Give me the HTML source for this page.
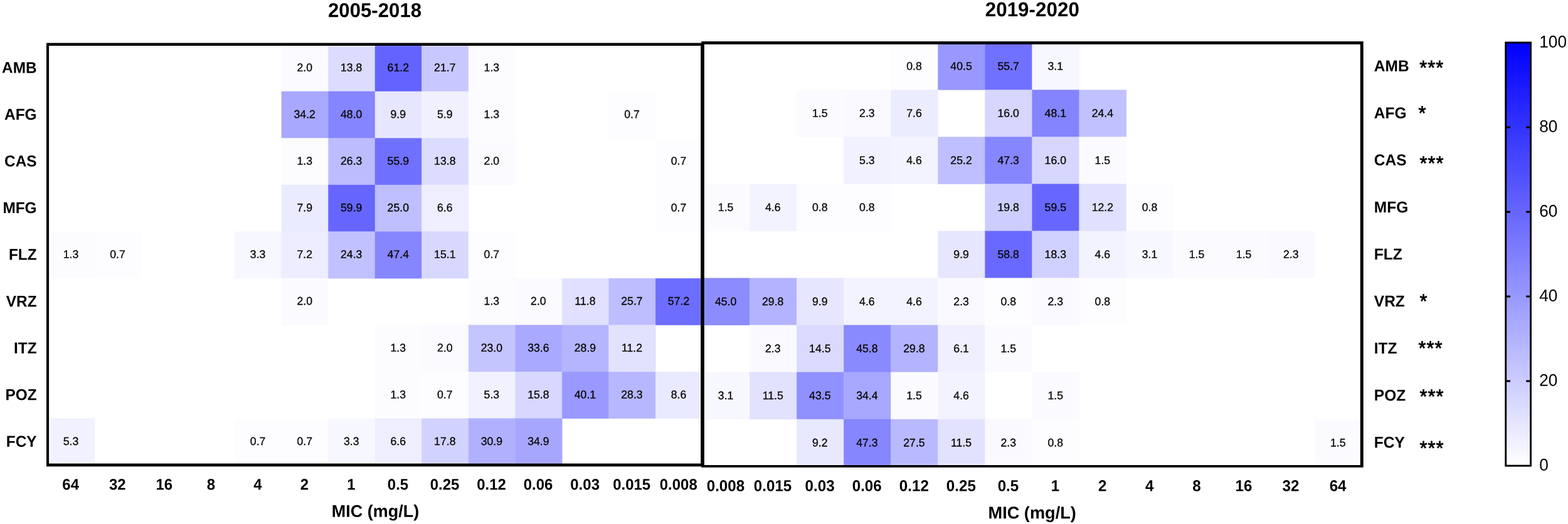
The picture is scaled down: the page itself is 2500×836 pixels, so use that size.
<!DOCTYPE html>
<html lang="en"><head><meta charset="utf-8"><title>MIC distribution heat maps, 2005-2018 vs 2019-2020</title>
<style>
html,body{margin:0;padding:0;background:#fff;}
body{width:2500px;height:836px;}
svg{display:block;font-family:"Liberation Sans",sans-serif;text-rendering:geometricPrecision;}
text{fill:#000;}
.cv text{text-anchor:middle;fill:#050505;stroke:#050505;stroke-width:.3px;}
.fr{fill:#000;stroke:none;}
.hm rect{stroke-width:.4px;}
.b{font-weight:bold;}
.m{text-anchor:middle;}
.e{text-anchor:end;}
.k text{stroke:none;}
.k .st text{stroke:#000;stroke-width:.7px;}
</style></head><body>
<svg width="2500" height="836" viewBox="0 0 2500 836" role="img" aria-label="Heat maps of MIC distributions">
<defs><linearGradient id="cb" x1="0" y1="0" x2="0" y2="1"><stop offset="0" stop-color="#0000ff"/><stop offset="1" stop-color="#ffffff"/></linearGradient></defs>
<rect width="2500" height="836" fill="#fff"/>
<g id="heat-2005-2018" class="hm">
<rect x="448.92" y="71.42" width="74.54" height="74.54" fill="#fafaff" stroke="#fafaff"/>
<rect x="523.46" y="71.42" width="74.54" height="74.54" fill="#dcdcff" stroke="#dcdcff"/>
<rect x="598" y="71.42" width="74.54" height="74.54" fill="#6363ff" stroke="#6363ff"/>
<rect x="672.54" y="71.42" width="74.54" height="74.54" fill="#c8c8ff" stroke="#c8c8ff"/>
<rect x="747.08" y="71.42" width="74.54" height="74.54" fill="#fcfcff" stroke="#fcfcff"/>
<rect x="448.92" y="145.96" width="74.54" height="74.54" fill="#a8a8ff" stroke="#a8a8ff"/>
<rect x="523.46" y="145.96" width="74.54" height="74.54" fill="#8585ff" stroke="#8585ff"/>
<rect x="598" y="145.96" width="74.54" height="74.54" fill="#e6e6ff" stroke="#e6e6ff"/>
<rect x="672.54" y="145.96" width="74.54" height="74.54" fill="#f0f0ff" stroke="#f0f0ff"/>
<rect x="747.08" y="145.96" width="74.54" height="74.54" fill="#fcfcff" stroke="#fcfcff"/>
<rect x="970.7" y="145.96" width="74.54" height="74.54" fill="#fdfdff" stroke="#fdfdff"/>
<rect x="448.92" y="220.5" width="74.54" height="74.54" fill="#fcfcff" stroke="#fcfcff"/>
<rect x="523.46" y="220.5" width="74.54" height="74.54" fill="#bcbcff" stroke="#bcbcff"/>
<rect x="598" y="220.5" width="74.54" height="74.54" fill="#7070ff" stroke="#7070ff"/>
<rect x="672.54" y="220.5" width="74.54" height="74.54" fill="#dcdcff" stroke="#dcdcff"/>
<rect x="747.08" y="220.5" width="74.54" height="74.54" fill="#fafaff" stroke="#fafaff"/>
<rect x="1045.24" y="220.5" width="74.54" height="74.54" fill="#fdfdff" stroke="#fdfdff"/>
<rect x="448.92" y="295.04" width="74.54" height="74.54" fill="#ebebff" stroke="#ebebff"/>
<rect x="523.46" y="295.04" width="74.54" height="74.54" fill="#6666ff" stroke="#6666ff"/>
<rect x="598" y="295.04" width="74.54" height="74.54" fill="#bfbfff" stroke="#bfbfff"/>
<rect x="672.54" y="295.04" width="74.54" height="74.54" fill="#eeeeff" stroke="#eeeeff"/>
<rect x="1045.24" y="295.04" width="74.54" height="74.54" fill="#fdfdff" stroke="#fdfdff"/>
<rect x="76.22" y="369.58" width="74.54" height="74.54" fill="#fcfcff" stroke="#fcfcff"/>
<rect x="150.76" y="369.58" width="74.54" height="74.54" fill="#fdfdff" stroke="#fdfdff"/>
<rect x="374.38" y="369.58" width="74.54" height="74.54" fill="#f7f7ff" stroke="#f7f7ff"/>
<rect x="448.92" y="369.58" width="74.54" height="74.54" fill="#ededff" stroke="#ededff"/>
<rect x="523.46" y="369.58" width="74.54" height="74.54" fill="#c1c1ff" stroke="#c1c1ff"/>
<rect x="598" y="369.58" width="74.54" height="74.54" fill="#8686ff" stroke="#8686ff"/>
<rect x="672.54" y="369.58" width="74.54" height="74.54" fill="#d8d8ff" stroke="#d8d8ff"/>
<rect x="747.08" y="369.58" width="74.54" height="74.54" fill="#fdfdff" stroke="#fdfdff"/>
<rect x="448.92" y="444.12" width="74.54" height="74.54" fill="#fafaff" stroke="#fafaff"/>
<rect x="747.08" y="444.12" width="74.54" height="74.54" fill="#fcfcff" stroke="#fcfcff"/>
<rect x="821.62" y="444.12" width="74.54" height="74.54" fill="#fafaff" stroke="#fafaff"/>
<rect x="896.16" y="444.12" width="74.54" height="74.54" fill="#e1e1ff" stroke="#e1e1ff"/>
<rect x="970.7" y="444.12" width="74.54" height="74.54" fill="#bdbdff" stroke="#bdbdff"/>
<rect x="1045.24" y="444.12" width="74.54" height="74.54" fill="#6d6dff" stroke="#6d6dff"/>
<rect x="598" y="518.66" width="74.54" height="74.54" fill="#fcfcff" stroke="#fcfcff"/>
<rect x="672.54" y="518.66" width="74.54" height="74.54" fill="#fafaff" stroke="#fafaff"/>
<rect x="747.08" y="518.66" width="74.54" height="74.54" fill="#c4c4ff" stroke="#c4c4ff"/>
<rect x="821.62" y="518.66" width="74.54" height="74.54" fill="#a9a9ff" stroke="#a9a9ff"/>
<rect x="896.16" y="518.66" width="74.54" height="74.54" fill="#b5b5ff" stroke="#b5b5ff"/>
<rect x="970.7" y="518.66" width="74.54" height="74.54" fill="#e2e2ff" stroke="#e2e2ff"/>
<rect x="598" y="593.2" width="74.54" height="74.54" fill="#fcfcff" stroke="#fcfcff"/>
<rect x="672.54" y="593.2" width="74.54" height="74.54" fill="#fdfdff" stroke="#fdfdff"/>
<rect x="747.08" y="593.2" width="74.54" height="74.54" fill="#f1f1ff" stroke="#f1f1ff"/>
<rect x="821.62" y="593.2" width="74.54" height="74.54" fill="#d7d7ff" stroke="#d7d7ff"/>
<rect x="896.16" y="593.2" width="74.54" height="74.54" fill="#9999ff" stroke="#9999ff"/>
<rect x="970.7" y="593.2" width="74.54" height="74.54" fill="#b7b7ff" stroke="#b7b7ff"/>
<rect x="1045.24" y="593.2" width="74.54" height="74.54" fill="#e9e9ff" stroke="#e9e9ff"/>
<rect x="76.22" y="667.74" width="74.54" height="74.54" fill="#f1f1ff" stroke="#f1f1ff"/>
<rect x="374.38" y="667.74" width="74.54" height="74.54" fill="#fdfdff" stroke="#fdfdff"/>
<rect x="448.92" y="667.74" width="74.54" height="74.54" fill="#fdfdff" stroke="#fdfdff"/>
<rect x="523.46" y="667.74" width="74.54" height="74.54" fill="#f7f7ff" stroke="#f7f7ff"/>
<rect x="598" y="667.74" width="74.54" height="74.54" fill="#eeeeff" stroke="#eeeeff"/>
<rect x="672.54" y="667.74" width="74.54" height="74.54" fill="#d2d2ff" stroke="#d2d2ff"/>
<rect x="747.08" y="667.74" width="74.54" height="74.54" fill="#b0b0ff" stroke="#b0b0ff"/>
<rect x="821.62" y="667.74" width="74.54" height="74.54" fill="#a6a6ff" stroke="#a6a6ff"/>
<rect x="448.92" y="72.1" width="74.54" height="2.9" fill="#ffffff"/>
<rect x="523.46" y="72.1" width="74.54" height="2.9" fill="#e8e8ff"/>
<rect x="598" y="72.1" width="74.54" height="2.9" fill="#6f6fff"/>
<rect x="672.54" y="72.1" width="74.54" height="2.9" fill="#d4d4ff"/>
<rect x="747.08" y="72.1" width="74.54" height="2.9" fill="#ffffff"/>
<rect x="1115.7" y="220.5" width="2.5" height="74.54" fill="#ffffff"/>
<rect x="1115.7" y="295.04" width="2.5" height="74.54" fill="#ffffff"/>
<rect x="77.1" y="369.58" width="3.1" height="74.54" fill="#ffffff"/>
<rect x="1115.7" y="444.12" width="2.5" height="74.54" fill="#7979ff"/>
<rect x="1115.7" y="593.2" width="2.5" height="74.54" fill="#f5f5ff"/>
<rect x="77.1" y="667.74" width="3.1" height="74.54" fill="#fdfdff"/>
<rect x="76.22" y="737.7" width="74.54" height="2.9" fill="#fdfdff"/>
<rect x="374.38" y="737.7" width="74.54" height="2.9" fill="#ffffff"/>
<rect x="448.92" y="737.7" width="74.54" height="2.9" fill="#ffffff"/>
<rect x="523.46" y="737.7" width="74.54" height="2.9" fill="#ffffff"/>
<rect x="598" y="737.7" width="74.54" height="2.9" fill="#fafaff"/>
<rect x="672.54" y="737.7" width="74.54" height="2.9" fill="#dedeff"/>
<rect x="747.08" y="737.7" width="74.54" height="2.9" fill="#bcbcff"/>
<rect x="821.62" y="737.7" width="74.54" height="2.9" fill="#b2b2ff"/>
<g class="cv" font-size="17.7">
<text transform="matrix(1 .0005 0 1.012 485.69 113.64)">2.0</text>
<text transform="matrix(1 .0005 0 1.012 560.23 113.64)">13.8</text>
<text transform="matrix(1 .0005 0 1.012 634.77 113.64)">61.2</text>
<text transform="matrix(1 .0005 0 1.012 709.31 113.64)">21.7</text>
<text transform="matrix(1 .0005 0 1.012 783.85 113.64)">1.3</text>
<text transform="matrix(1 .0005 0 1.012 485.69 188.18)">34.2</text>
<text transform="matrix(1 .0005 0 1.012 560.23 188.18)">48.0</text>
<text transform="matrix(1 .0005 0 1.012 634.77 188.18)">9.9</text>
<text transform="matrix(1 .0005 0 1.012 709.31 188.18)">5.9</text>
<text transform="matrix(1 .0005 0 1.012 783.85 188.18)">1.3</text>
<text transform="matrix(1 .0005 0 1.012 1007.47 188.18)">0.7</text>
<text transform="matrix(1 .0005 0 1.012 485.69 262.72)">1.3</text>
<text transform="matrix(1 .0005 0 1.012 560.23 262.72)">26.3</text>
<text transform="matrix(1 .0005 0 1.012 634.77 262.72)">55.9</text>
<text transform="matrix(1 .0005 0 1.012 709.31 262.72)">13.8</text>
<text transform="matrix(1 .0005 0 1.012 783.85 262.72)">2.0</text>
<text transform="matrix(1 .0005 0 1.012 1082.01 262.72)">0.7</text>
<text transform="matrix(1 .0005 0 1.012 485.69 337.26)">7.9</text>
<text transform="matrix(1 .0005 0 1.012 560.23 337.26)">59.9</text>
<text transform="matrix(1 .0005 0 1.012 634.77 337.26)">25.0</text>
<text transform="matrix(1 .0005 0 1.012 709.31 337.26)">6.6</text>
<text transform="matrix(1 .0005 0 1.012 1082.01 337.26)">0.7</text>
<text transform="matrix(1 .0005 0 1.012 112.99 411.8)">1.3</text>
<text transform="matrix(1 .0005 0 1.012 187.53 411.8)">0.7</text>
<text transform="matrix(1 .0005 0 1.012 411.15 411.8)">3.3</text>
<text transform="matrix(1 .0005 0 1.012 485.69 411.8)">7.2</text>
<text transform="matrix(1 .0005 0 1.012 560.23 411.8)">24.3</text>
<text transform="matrix(1 .0005 0 1.012 634.77 411.8)">47.4</text>
<text transform="matrix(1 .0005 0 1.012 709.31 411.8)">15.1</text>
<text transform="matrix(1 .0005 0 1.012 783.85 411.8)">0.7</text>
<text transform="matrix(1 .0005 0 1.012 485.69 486.34)">2.0</text>
<text transform="matrix(1 .0005 0 1.012 783.85 486.34)">1.3</text>
<text transform="matrix(1 .0005 0 1.012 858.39 486.34)">2.0</text>
<text transform="matrix(1 .0005 0 1.012 932.93 486.34)">11.8</text>
<text transform="matrix(1 .0005 0 1.012 1007.47 486.34)">25.7</text>
<text transform="matrix(1 .0005 0 1.012 1082.01 486.34)">57.2</text>
<text transform="matrix(1 .0005 0 1.012 634.77 560.88)">1.3</text>
<text transform="matrix(1 .0005 0 1.012 709.31 560.88)">2.0</text>
<text transform="matrix(1 .0005 0 1.012 783.85 560.88)">23.0</text>
<text transform="matrix(1 .0005 0 1.012 858.39 560.88)">33.6</text>
<text transform="matrix(1 .0005 0 1.012 932.93 560.88)">28.9</text>
<text transform="matrix(1 .0005 0 1.012 1007.47 560.88)">11.2</text>
<text transform="matrix(1 .0005 0 1.012 634.77 635.42)">1.3</text>
<text transform="matrix(1 .0005 0 1.012 709.31 635.42)">0.7</text>
<text transform="matrix(1 .0005 0 1.012 783.85 635.42)">5.3</text>
<text transform="matrix(1 .0005 0 1.012 858.39 635.42)">15.8</text>
<text transform="matrix(1 .0005 0 1.012 932.93 635.42)">40.1</text>
<text transform="matrix(1 .0005 0 1.012 1007.47 635.42)">28.3</text>
<text transform="matrix(1 .0005 0 1.012 1082.01 635.42)">8.6</text>
<text transform="matrix(1 .0005 0 1.012 112.99 709.96)">5.3</text>
<text transform="matrix(1 .0005 0 1.012 411.15 709.96)">0.7</text>
<text transform="matrix(1 .0005 0 1.012 485.69 709.96)">0.7</text>
<text transform="matrix(1 .0005 0 1.012 560.23 709.96)">3.3</text>
<text transform="matrix(1 .0005 0 1.012 634.77 709.96)">6.6</text>
<text transform="matrix(1 .0005 0 1.012 709.31 709.96)">17.8</text>
<text transform="matrix(1 .0005 0 1.012 783.85 709.96)">30.9</text>
<text transform="matrix(1 .0005 0 1.012 858.39 709.96)">34.9</text>
</g>
</g>
<g id="heat-2019-2020" class="hm">
<rect x="1420.46" y="68.35" width="75.09" height="75.08" fill="#fdfdff" stroke="#fdfdff"/>
<rect x="1495.55" y="68.35" width="75.09" height="75.08" fill="#9898ff" stroke="#9898ff"/>
<rect x="1570.64" y="68.35" width="75.09" height="75.08" fill="#7171ff" stroke="#7171ff"/>
<rect x="1645.73" y="68.35" width="75.09" height="75.08" fill="#f7f7ff" stroke="#f7f7ff"/>
<rect x="1270.28" y="143.43" width="75.09" height="75.08" fill="#fbfbff" stroke="#fbfbff"/>
<rect x="1345.37" y="143.43" width="75.09" height="75.08" fill="#f9f9ff" stroke="#f9f9ff"/>
<rect x="1420.46" y="143.43" width="75.09" height="75.08" fill="#ececff" stroke="#ececff"/>
<rect x="1570.64" y="143.43" width="75.09" height="75.08" fill="#d6d6ff" stroke="#d6d6ff"/>
<rect x="1645.73" y="143.43" width="75.09" height="75.08" fill="#8484ff" stroke="#8484ff"/>
<rect x="1720.82" y="143.43" width="75.09" height="75.08" fill="#c1c1ff" stroke="#c1c1ff"/>
<rect x="1345.37" y="218.51" width="75.09" height="75.08" fill="#f1f1ff" stroke="#f1f1ff"/>
<rect x="1420.46" y="218.51" width="75.09" height="75.08" fill="#f3f3ff" stroke="#f3f3ff"/>
<rect x="1495.55" y="218.51" width="75.09" height="75.08" fill="#bfbfff" stroke="#bfbfff"/>
<rect x="1570.64" y="218.51" width="75.09" height="75.08" fill="#8686ff" stroke="#8686ff"/>
<rect x="1645.73" y="218.51" width="75.09" height="75.08" fill="#d6d6ff" stroke="#d6d6ff"/>
<rect x="1720.82" y="218.51" width="75.09" height="75.08" fill="#fbfbff" stroke="#fbfbff"/>
<rect x="1120.1" y="293.59" width="75.09" height="75.08" fill="#fbfbff" stroke="#fbfbff"/>
<rect x="1195.19" y="293.59" width="75.09" height="75.08" fill="#f3f3ff" stroke="#f3f3ff"/>
<rect x="1270.28" y="293.59" width="75.09" height="75.08" fill="#fdfdff" stroke="#fdfdff"/>
<rect x="1345.37" y="293.59" width="75.09" height="75.08" fill="#fdfdff" stroke="#fdfdff"/>
<rect x="1570.64" y="293.59" width="75.09" height="75.08" fill="#cdcdff" stroke="#cdcdff"/>
<rect x="1645.73" y="293.59" width="75.09" height="75.08" fill="#6767ff" stroke="#6767ff"/>
<rect x="1720.82" y="293.59" width="75.09" height="75.08" fill="#e0e0ff" stroke="#e0e0ff"/>
<rect x="1795.91" y="293.59" width="75.09" height="75.08" fill="#fdfdff" stroke="#fdfdff"/>
<rect x="1495.55" y="368.67" width="75.09" height="75.08" fill="#e6e6ff" stroke="#e6e6ff"/>
<rect x="1570.64" y="368.67" width="75.09" height="75.08" fill="#6969ff" stroke="#6969ff"/>
<rect x="1645.73" y="368.67" width="75.09" height="75.08" fill="#d0d0ff" stroke="#d0d0ff"/>
<rect x="1720.82" y="368.67" width="75.09" height="75.08" fill="#f3f3ff" stroke="#f3f3ff"/>
<rect x="1795.91" y="368.67" width="75.09" height="75.08" fill="#f7f7ff" stroke="#f7f7ff"/>
<rect x="1871" y="368.67" width="75.09" height="75.08" fill="#fbfbff" stroke="#fbfbff"/>
<rect x="1946.09" y="368.67" width="75.09" height="75.08" fill="#fbfbff" stroke="#fbfbff"/>
<rect x="2021.18" y="368.67" width="75.09" height="75.08" fill="#f9f9ff" stroke="#f9f9ff"/>
<rect x="1120.1" y="443.75" width="75.09" height="75.08" fill="#8c8cff" stroke="#8c8cff"/>
<rect x="1195.19" y="443.75" width="75.09" height="75.08" fill="#b3b3ff" stroke="#b3b3ff"/>
<rect x="1270.28" y="443.75" width="75.09" height="75.08" fill="#e6e6ff" stroke="#e6e6ff"/>
<rect x="1345.37" y="443.75" width="75.09" height="75.08" fill="#f3f3ff" stroke="#f3f3ff"/>
<rect x="1420.46" y="443.75" width="75.09" height="75.08" fill="#f3f3ff" stroke="#f3f3ff"/>
<rect x="1495.55" y="443.75" width="75.09" height="75.08" fill="#f9f9ff" stroke="#f9f9ff"/>
<rect x="1570.64" y="443.75" width="75.09" height="75.08" fill="#fdfdff" stroke="#fdfdff"/>
<rect x="1645.73" y="443.75" width="75.09" height="75.08" fill="#f9f9ff" stroke="#f9f9ff"/>
<rect x="1720.82" y="443.75" width="75.09" height="75.08" fill="#fdfdff" stroke="#fdfdff"/>
<rect x="1195.19" y="518.83" width="75.09" height="75.08" fill="#f9f9ff" stroke="#f9f9ff"/>
<rect x="1270.28" y="518.83" width="75.09" height="75.08" fill="#dadaff" stroke="#dadaff"/>
<rect x="1345.37" y="518.83" width="75.09" height="75.08" fill="#8a8aff" stroke="#8a8aff"/>
<rect x="1420.46" y="518.83" width="75.09" height="75.08" fill="#b3b3ff" stroke="#b3b3ff"/>
<rect x="1495.55" y="518.83" width="75.09" height="75.08" fill="#efefff" stroke="#efefff"/>
<rect x="1570.64" y="518.83" width="75.09" height="75.08" fill="#fbfbff" stroke="#fbfbff"/>
<rect x="1120.1" y="593.91" width="75.09" height="75.08" fill="#f7f7ff" stroke="#f7f7ff"/>
<rect x="1195.19" y="593.91" width="75.09" height="75.08" fill="#e2e2ff" stroke="#e2e2ff"/>
<rect x="1270.28" y="593.91" width="75.09" height="75.08" fill="#9090ff" stroke="#9090ff"/>
<rect x="1345.37" y="593.91" width="75.09" height="75.08" fill="#a7a7ff" stroke="#a7a7ff"/>
<rect x="1420.46" y="593.91" width="75.09" height="75.08" fill="#fbfbff" stroke="#fbfbff"/>
<rect x="1495.55" y="593.91" width="75.09" height="75.08" fill="#f3f3ff" stroke="#f3f3ff"/>
<rect x="1645.73" y="593.91" width="75.09" height="75.08" fill="#fbfbff" stroke="#fbfbff"/>
<rect x="1270.28" y="668.99" width="75.09" height="75.08" fill="#e8e8ff" stroke="#e8e8ff"/>
<rect x="1345.37" y="668.99" width="75.09" height="75.08" fill="#8686ff" stroke="#8686ff"/>
<rect x="1420.46" y="668.99" width="75.09" height="75.08" fill="#b9b9ff" stroke="#b9b9ff"/>
<rect x="1495.55" y="668.99" width="75.09" height="75.08" fill="#e2e2ff" stroke="#e2e2ff"/>
<rect x="1570.64" y="668.99" width="75.09" height="75.08" fill="#f9f9ff" stroke="#f9f9ff"/>
<rect x="1645.73" y="668.99" width="75.09" height="75.08" fill="#fdfdff" stroke="#fdfdff"/>
<rect x="2096.27" y="668.99" width="75.09" height="75.08" fill="#fbfbff" stroke="#fbfbff"/>
<rect x="1121.9" y="293.59" width="2.6" height="75.08" fill="#ffffff"/>
<rect x="1121.9" y="443.75" width="2.6" height="75.08" fill="#9898ff"/>
<rect x="1121.9" y="593.91" width="2.6" height="75.08" fill="#ffffff"/>
<rect x="1270.28" y="739.8" width="75.09" height="3.2" fill="#f4f4ff"/>
<rect x="1345.37" y="739.8" width="75.09" height="3.2" fill="#9292ff"/>
<rect x="1420.46" y="739.8" width="75.09" height="3.2" fill="#c5c5ff"/>
<rect x="1495.55" y="739.8" width="75.09" height="3.2" fill="#eeeeff"/>
<rect x="1570.64" y="739.8" width="75.09" height="3.2" fill="#ffffff"/>
<rect x="1645.73" y="739.8" width="75.09" height="3.2" fill="#ffffff"/>
<rect x="2166.6" y="668.99" width="3.2" height="75.08" fill="#ffffff"/>
<rect x="2096.27" y="739.8" width="75.09" height="3.2" fill="#ffffff"/>
<g class="cv" font-size="17.7">
<text transform="matrix(1 .0005 0 1.012 1457.5 111.54)">0.8</text>
<text transform="matrix(1 .0005 0 1.012 1532.59 111.54)">40.5</text>
<text transform="matrix(1 .0005 0 1.012 1607.68 111.54)">55.7</text>
<text transform="matrix(1 .0005 0 1.012 1682.78 111.54)">3.1</text>
<text transform="matrix(1 .0005 0 1.012 1307.32 186.62)">1.5</text>
<text transform="matrix(1 .0005 0 1.012 1382.41 186.62)">2.3</text>
<text transform="matrix(1 .0005 0 1.012 1457.5 186.62)">7.6</text>
<text transform="matrix(1 .0005 0 1.012 1607.68 186.62)">16.0</text>
<text transform="matrix(1 .0005 0 1.012 1682.78 186.62)">48.1</text>
<text transform="matrix(1 .0005 0 1.012 1757.86 186.62)">24.4</text>
<text transform="matrix(1 .0005 0 1.012 1382.41 261.7)">5.3</text>
<text transform="matrix(1 .0005 0 1.012 1457.5 261.7)">4.6</text>
<text transform="matrix(1 .0005 0 1.012 1532.59 261.7)">25.2</text>
<text transform="matrix(1 .0005 0 1.012 1607.68 261.7)">47.3</text>
<text transform="matrix(1 .0005 0 1.012 1682.78 261.7)">16.0</text>
<text transform="matrix(1 .0005 0 1.012 1757.86 261.7)">1.5</text>
<text transform="matrix(1 .0005 0 1.012 1157.14 336.78)">1.5</text>
<text transform="matrix(1 .0005 0 1.012 1232.23 336.78)">4.6</text>
<text transform="matrix(1 .0005 0 1.012 1307.32 336.78)">0.8</text>
<text transform="matrix(1 .0005 0 1.012 1382.41 336.78)">0.8</text>
<text transform="matrix(1 .0005 0 1.012 1607.68 336.78)">19.8</text>
<text transform="matrix(1 .0005 0 1.012 1682.78 336.78)">59.5</text>
<text transform="matrix(1 .0005 0 1.012 1757.86 336.78)">12.2</text>
<text transform="matrix(1 .0005 0 1.012 1832.95 336.78)">0.8</text>
<text transform="matrix(1 .0005 0 1.012 1532.59 411.86)">9.9</text>
<text transform="matrix(1 .0005 0 1.012 1607.68 411.86)">58.8</text>
<text transform="matrix(1 .0005 0 1.012 1682.78 411.86)">18.3</text>
<text transform="matrix(1 .0005 0 1.012 1757.86 411.86)">4.6</text>
<text transform="matrix(1 .0005 0 1.012 1832.95 411.86)">3.1</text>
<text transform="matrix(1 .0005 0 1.012 1908.05 411.86)">1.5</text>
<text transform="matrix(1 .0005 0 1.012 1983.13 411.86)">1.5</text>
<text transform="matrix(1 .0005 0 1.012 2058.22 411.86)">2.3</text>
<text transform="matrix(1 .0005 0 1.012 1157.14 486.94)">45.0</text>
<text transform="matrix(1 .0005 0 1.012 1232.23 486.94)">29.8</text>
<text transform="matrix(1 .0005 0 1.012 1307.32 486.94)">9.9</text>
<text transform="matrix(1 .0005 0 1.012 1382.41 486.94)">4.6</text>
<text transform="matrix(1 .0005 0 1.012 1457.5 486.94)">4.6</text>
<text transform="matrix(1 .0005 0 1.012 1532.59 486.94)">2.3</text>
<text transform="matrix(1 .0005 0 1.012 1607.68 486.94)">0.8</text>
<text transform="matrix(1 .0005 0 1.012 1682.78 486.94)">2.3</text>
<text transform="matrix(1 .0005 0 1.012 1757.86 486.94)">0.8</text>
<text transform="matrix(1 .0005 0 1.012 1232.23 562.02)">2.3</text>
<text transform="matrix(1 .0005 0 1.012 1307.32 562.02)">14.5</text>
<text transform="matrix(1 .0005 0 1.012 1382.41 562.02)">45.8</text>
<text transform="matrix(1 .0005 0 1.012 1457.5 562.02)">29.8</text>
<text transform="matrix(1 .0005 0 1.012 1532.59 562.02)">6.1</text>
<text transform="matrix(1 .0005 0 1.012 1607.68 562.02)">1.5</text>
<text transform="matrix(1 .0005 0 1.012 1157.14 637.1)">3.1</text>
<text transform="matrix(1 .0005 0 1.012 1232.23 637.1)">11.5</text>
<text transform="matrix(1 .0005 0 1.012 1307.32 637.1)">43.5</text>
<text transform="matrix(1 .0005 0 1.012 1382.41 637.1)">34.4</text>
<text transform="matrix(1 .0005 0 1.012 1457.5 637.1)">1.5</text>
<text transform="matrix(1 .0005 0 1.012 1532.59 637.1)">4.6</text>
<text transform="matrix(1 .0005 0 1.012 1682.78 637.1)">1.5</text>
<text transform="matrix(1 .0005 0 1.012 1307.32 712.18)">9.2</text>
<text transform="matrix(1 .0005 0 1.012 1382.41 712.18)">47.3</text>
<text transform="matrix(1 .0005 0 1.012 1457.5 712.18)">27.5</text>
<text transform="matrix(1 .0005 0 1.012 1532.59 712.18)">11.5</text>
<text transform="matrix(1 .0005 0 1.012 1607.68 712.18)">2.3</text>
<text transform="matrix(1 .0005 0 1.012 1682.78 712.18)">0.8</text>
<text transform="matrix(1 .0005 0 1.012 2133.32 712.18)">1.5</text>
</g>
</g>
<path class="fr" d="M74 68.4H1121.6V73.1H74ZM74 739.6H1121.6V744.3H74ZM74 68.4H78.1V744.3H74ZM1117.2 68.4H1121.6V744.3H1117.2Z"/>
<path class="fr" d="M1118.3 66H2173.7V70.75H1118.3ZM1118.3 742H2173.7V745.85H1118.3ZM1118.3 66H1122.9V745.85H1118.3ZM2168.8 66H2173.7V745.85H2168.8Z"/>
<g class="k">
<g class="b m" font-size="31.2">
<text transform="matrix(1 .0005 0 1.025 597.55 27.2)">2005-2018</text>
</g><g class="b m" font-size="31.4">
<text transform="matrix(1 .0005 0 1.025 1645.8 26)">2019-2020</text>
</g>
<g class="b m" font-size="24">
<text transform="matrix(1 .0005 0 1.03 112.69 781.3)">64</text>
<text transform="matrix(1 .0005 0 1.03 187.23 781.3)">32</text>
<text transform="matrix(1 .0005 0 1.03 261.77 781.3)">16</text>
<text transform="matrix(1 .0005 0 1.03 336.31 781.3)">8</text>
<text transform="matrix(1 .0005 0 1.03 410.85 781.3)">4</text>
<text transform="matrix(1 .0005 0 1.03 485.39 781.3)">2</text>
<text transform="matrix(1 .0005 0 1.03 559.93 781.3)">1</text>
<text transform="matrix(1 .0005 0 1.03 634.47 781.3)">0.5</text>
<text transform="matrix(1 .0005 0 1.03 709.01 781.3)">0.25</text>
<text transform="matrix(1 .0005 0 1.03 783.55 781.3)">0.12</text>
<text transform="matrix(1 .0005 0 1.03 858.09 781.3)">0.06</text>
<text transform="matrix(1 .0005 0 1.03 932.63 781.3)">0.03</text>
<text transform="matrix(1 .0005 0 1.03 1007.17 781.3)">0.015</text>
<text transform="matrix(1 .0005 0 1.03 1081.71 781.3)">0.008</text>
</g>
<g class="b m" font-size="24.2">
<text transform="matrix(1 .0005 0 1.035 1156.94 783.4)">0.008</text>
<text transform="matrix(1 .0005 0 1.035 1232.03 783.4)">0.015</text>
<text transform="matrix(1 .0005 0 1.035 1307.12 783.4)">0.03</text>
<text transform="matrix(1 .0005 0 1.035 1382.21 783.4)">0.06</text>
<text transform="matrix(1 .0005 0 1.035 1457.3 783.4)">0.12</text>
<text transform="matrix(1 .0005 0 1.035 1532.39 783.4)">0.25</text>
<text transform="matrix(1 .0005 0 1.035 1607.48 783.4)">0.5</text>
<text transform="matrix(1 .0005 0 1.035 1682.58 783.4)">1</text>
<text transform="matrix(1 .0005 0 1.035 1757.66 783.4)">2</text>
<text transform="matrix(1 .0005 0 1.035 1832.75 783.4)">4</text>
<text transform="matrix(1 .0005 0 1.035 1907.85 783.4)">8</text>
<text transform="matrix(1 .0005 0 1.035 1982.93 783.4)">16</text>
<text transform="matrix(1 .0005 0 1.035 2058.03 783.4)">32</text>
<text transform="matrix(1 .0005 0 1.035 2133.12 783.4)">64</text>
</g>
<g class="b m" font-size="27">
<text transform="matrix(1 .0005 0 1.008 598.6 824.8)">MIC (mg/L)</text>
</g><g class="b m" font-size="27.2">
<text transform="matrix(1 .0005 0 1.001 1645.7 827.35)">MIC (mg/L)</text>
</g>
<g class="b e" font-size="24.4">
<text transform="matrix(1 .0005 0 1.028 58.6 116.4)">AMB</text>
<text transform="matrix(1 .0005 0 1.028 58.6 190.96)">AFG</text>
<text transform="matrix(1 .0005 0 1.028 58.6 265.51)">CAS</text>
<text transform="matrix(1 .0005 0 1.028 58.6 340.07)">MFG</text>
<text transform="matrix(1 .0005 0 1.028 58.6 414.62)">FLZ</text>
<text transform="matrix(1 .0005 0 1.028 58.6 489.18)">VRZ</text>
<text transform="matrix(1 .0005 0 1.028 58.6 563.73)">ITZ</text>
<text transform="matrix(1 .0005 0 1.028 58.6 638.28)">POZ</text>
<text transform="matrix(1 .0005 0 1.028 58.6 712.84)">FCY</text>
</g>
<g class="b" font-size="24.5">
<text transform="matrix(1 .0005 0 1.028 2190.8 113.7)">AMB</text>
<text transform="matrix(1 .0005 0 1.028 2190.8 188.76)">AFG</text>
<text transform="matrix(1 .0005 0 1.028 2190.8 263.82)">CAS</text>
<text transform="matrix(1 .0005 0 1.028 2190.8 338.88)">MFG</text>
<text transform="matrix(1 .0005 0 1.028 2190.8 413.94)">FLZ</text>
<text transform="matrix(1 .0005 0 1.028 2190.8 489)">VRZ</text>
<text transform="matrix(1 .0005 0 1.028 2190.8 564.06)">ITZ</text>
<text transform="matrix(1 .0005 0 1.028 2190.8 639.12)">POZ</text>
<text transform="matrix(1 .0005 0 1.028 2190.8 714.18)">FCY</text>
</g>
<g class="st" font-size="30.8" letter-spacing="1.02">
<text transform="matrix(1 .0005 0 1.05 2263.15 118.9)">***</text>
<text transform="matrix(1 .0005 0 1.05 2261.45 191.5)">*</text>
<text transform="matrix(1 .0005 0 1.05 2263.55 271.4)">***</text>
<text transform="matrix(1 .0005 0 1.05 2263.55 491.5)">*</text>
<text transform="matrix(1 .0005 0 1.05 2261.55 566.4)">***</text>
<text transform="matrix(1 .0005 0 1.05 2263.55 643.5)">***</text>
<text transform="matrix(1 .0005 0 1.05 2263.55 725.9)">***</text>
</g>
</g>
<g id="colourbar">
<rect x="2400.75" y="67.95" width="39.8" height="675.15" fill="url(#cb)" stroke="#000" stroke-width="2.9"/>
<path d="M2400.75 608.07h7.3M2440.55 608.07h-7.3M2400.75 473.04h7.3M2440.55 473.04h-7.3M2400.75 338.01h7.3M2440.55 338.01h-7.3M2400.75 202.98h7.3M2440.55 202.98h-7.3" fill="none" stroke="#000" stroke-width="3.1"/>
<g font-size="26.2" class="cl">
<text transform="matrix(1 .0005 0 1.035 2454.3 750.85)">0</text>
<text transform="matrix(1 .0005 0 1.035 2454.3 615.82)">20</text>
<text transform="matrix(1 .0005 0 1.035 2454.3 480.79)">40</text>
<text transform="matrix(1 .0005 0 1.035 2454.3 345.76)">60</text>
<text transform="matrix(1 .0005 0 1.035 2454.3 210.73)">80</text>
<text transform="matrix(1 .0005 0 1.035 2454.3 75.7)">100</text>
</g></g>
</svg>
</body></html>
